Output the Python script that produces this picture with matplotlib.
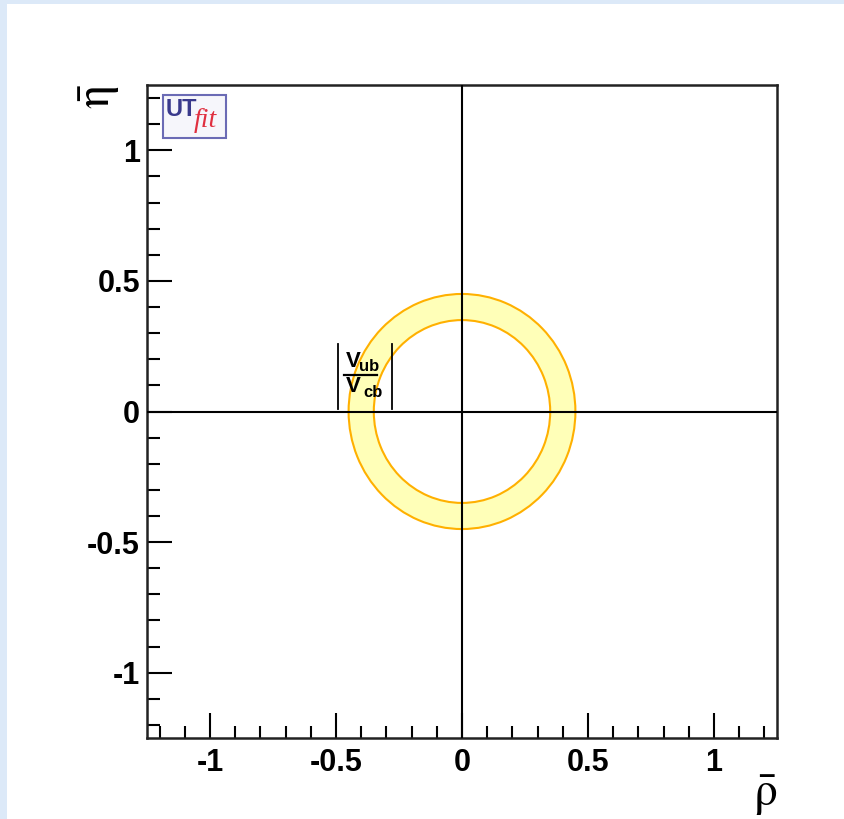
#!/usr/bin/env python3

import matplotlib
matplotlib.use('Agg')
import matplotlib.pyplot as plt
from matplotlib.patches import Wedge, Rectangle
from matplotlib.ticker import MultipleLocator

# ring constraint from |Vub/Vcb| (radius band around the origin)
ring_center = (0.0, 0.0)
ring_inner = 0.35
ring_outer = 0.45

x_range = (-1.25, 1.25)
y_range = (-1.25, 1.25)
x_ticks = [-1, -0.5, 0, 0.5, 1]
x_ticklabels = ['-1', '-0.5', '0', '0.5', '1']
y_ticks = [-1, -0.5, 0, 0.5, 1]
y_ticklabels = ['-1', '-0.5', '0', '0.5', '1']


def main():
    fig = plt.figure(figsize=(8.44, 8.19), dpi=100)
    fig.patch.set_facecolor('#dce9f8')
    # white slide panel
    panel = Rectangle((7 / 844, 0), 1, 1 - 4 / 819, transform=fig.transFigure,
                      facecolor='white', edgecolor='none', zorder=-10)
    fig.add_artist(panel)

    ax = fig.add_axes([147 / 844, 1 - 738 / 819, 630 / 844, 653 / 819])
    ax.set_zorder(1)
    ax.set_facecolor('white')
    ax.set_xlim(*x_range)
    ax.set_ylim(*y_range)

    ring = Wedge(ring_center, ring_outer, 0, 360, width=ring_outer - ring_inner,
                 facecolor='#ffffb8', edgecolor='#ffb000', linewidth=1.5, zorder=2)
    ax.add_patch(ring)

    ax.axhline(0, color='black', linewidth=1.5, zorder=3)
    ax.axvline(0, color='black', linewidth=1.5, zorder=3)

    # ticks (ROOT-style, inward, one side only)
    ax.set_xticks(x_ticks)
    ax.set_xticklabels(x_ticklabels)
    ax.set_yticks(y_ticks)
    ax.set_yticklabels(y_ticklabels)
    ax.xaxis.set_minor_locator(MultipleLocator(0.1))
    ax.yaxis.set_minor_locator(MultipleLocator(0.1))
    ax.tick_params(which='both', direction='in', top=False, right=False, width=1.5, color='black')
    ax.tick_params(which='major', length=18)
    ax.tick_params(which='minor', length=9)
    ax.tick_params(axis='x', which='major', pad=7)
    ax.tick_params(axis='y', which='major', pad=5)
    for lab in ax.get_xticklabels() + ax.get_yticklabels():
        lab.set_fontfamily('Liberation Sans')
        lab.set_fontweight('bold')
        lab.set_fontsize(22)
    for sp in ax.spines.values():
        sp.set_linewidth(1.8)
        sp.set_color('#222222')

    # axis labels
    fig.text(765 / 844, 1 - 795 / 819, r'$\bar{\mathrm{\rho}}$', math_fontfamily='stix',
             fontsize=34, ha='center', va='center')
    fig.text(100 / 844, 1 - 97 / 819, r'$\bar{\mathrm{\eta}}$', math_fontfamily='stix',
             fontsize=34, ha='center', va='center', rotation=90)

    # constraint label |Vub / Vcb|
    ax.plot([-0.491, -0.491], [0.011, 0.26], color='black', lw=1.3, zorder=4)
    ax.plot([-0.277, -0.277], [0.011, 0.26], color='black', lw=1.3, zorder=4)
    ax.plot([-0.467, -0.337], [0.138, 0.138], color='black', lw=1.6, zorder=4)
    big = dict(fontfamily='Liberation Sans', fontweight='bold', fontsize=16,
               ha='left', va='center', zorder=4)
    small = dict(fontfamily='Liberation Sans', fontweight='bold', fontsize=12,
                 ha='left', va='center', zorder=4)
    ax.text(-0.461, 0.193, 'V', **big)
    ax.text(-0.408, 0.172, 'ub', **small)
    ax.text(-0.461, 0.097, 'V', **big)
    ax.text(-0.392, 0.071, 'cb', **small)

    # UTfit logo
    ax.add_patch(Rectangle((0.0254, 0.9188), 0.1, 0.0658, transform=ax.transAxes,
                           facecolor='#f6f6fb', edgecolor='#6b6bb5', linewidth=1.5, zorder=4))
    ax.text(0.030, 0.962, 'UT', transform=ax.transAxes, fontfamily='Liberation Sans',
            fontweight='bold', fontsize=17, color='#3a3a8c', ha='left', va='center', zorder=5)
    ax.text(0.074, 0.945, 'fit', transform=ax.transAxes, fontfamily='Liberation Serif',
            fontstyle='italic', fontsize=20, color='#e03040', ha='left', va='center', zorder=5)

    fig.savefig('out.png', dpi=100)


if __name__ == "__main__":
    main()
